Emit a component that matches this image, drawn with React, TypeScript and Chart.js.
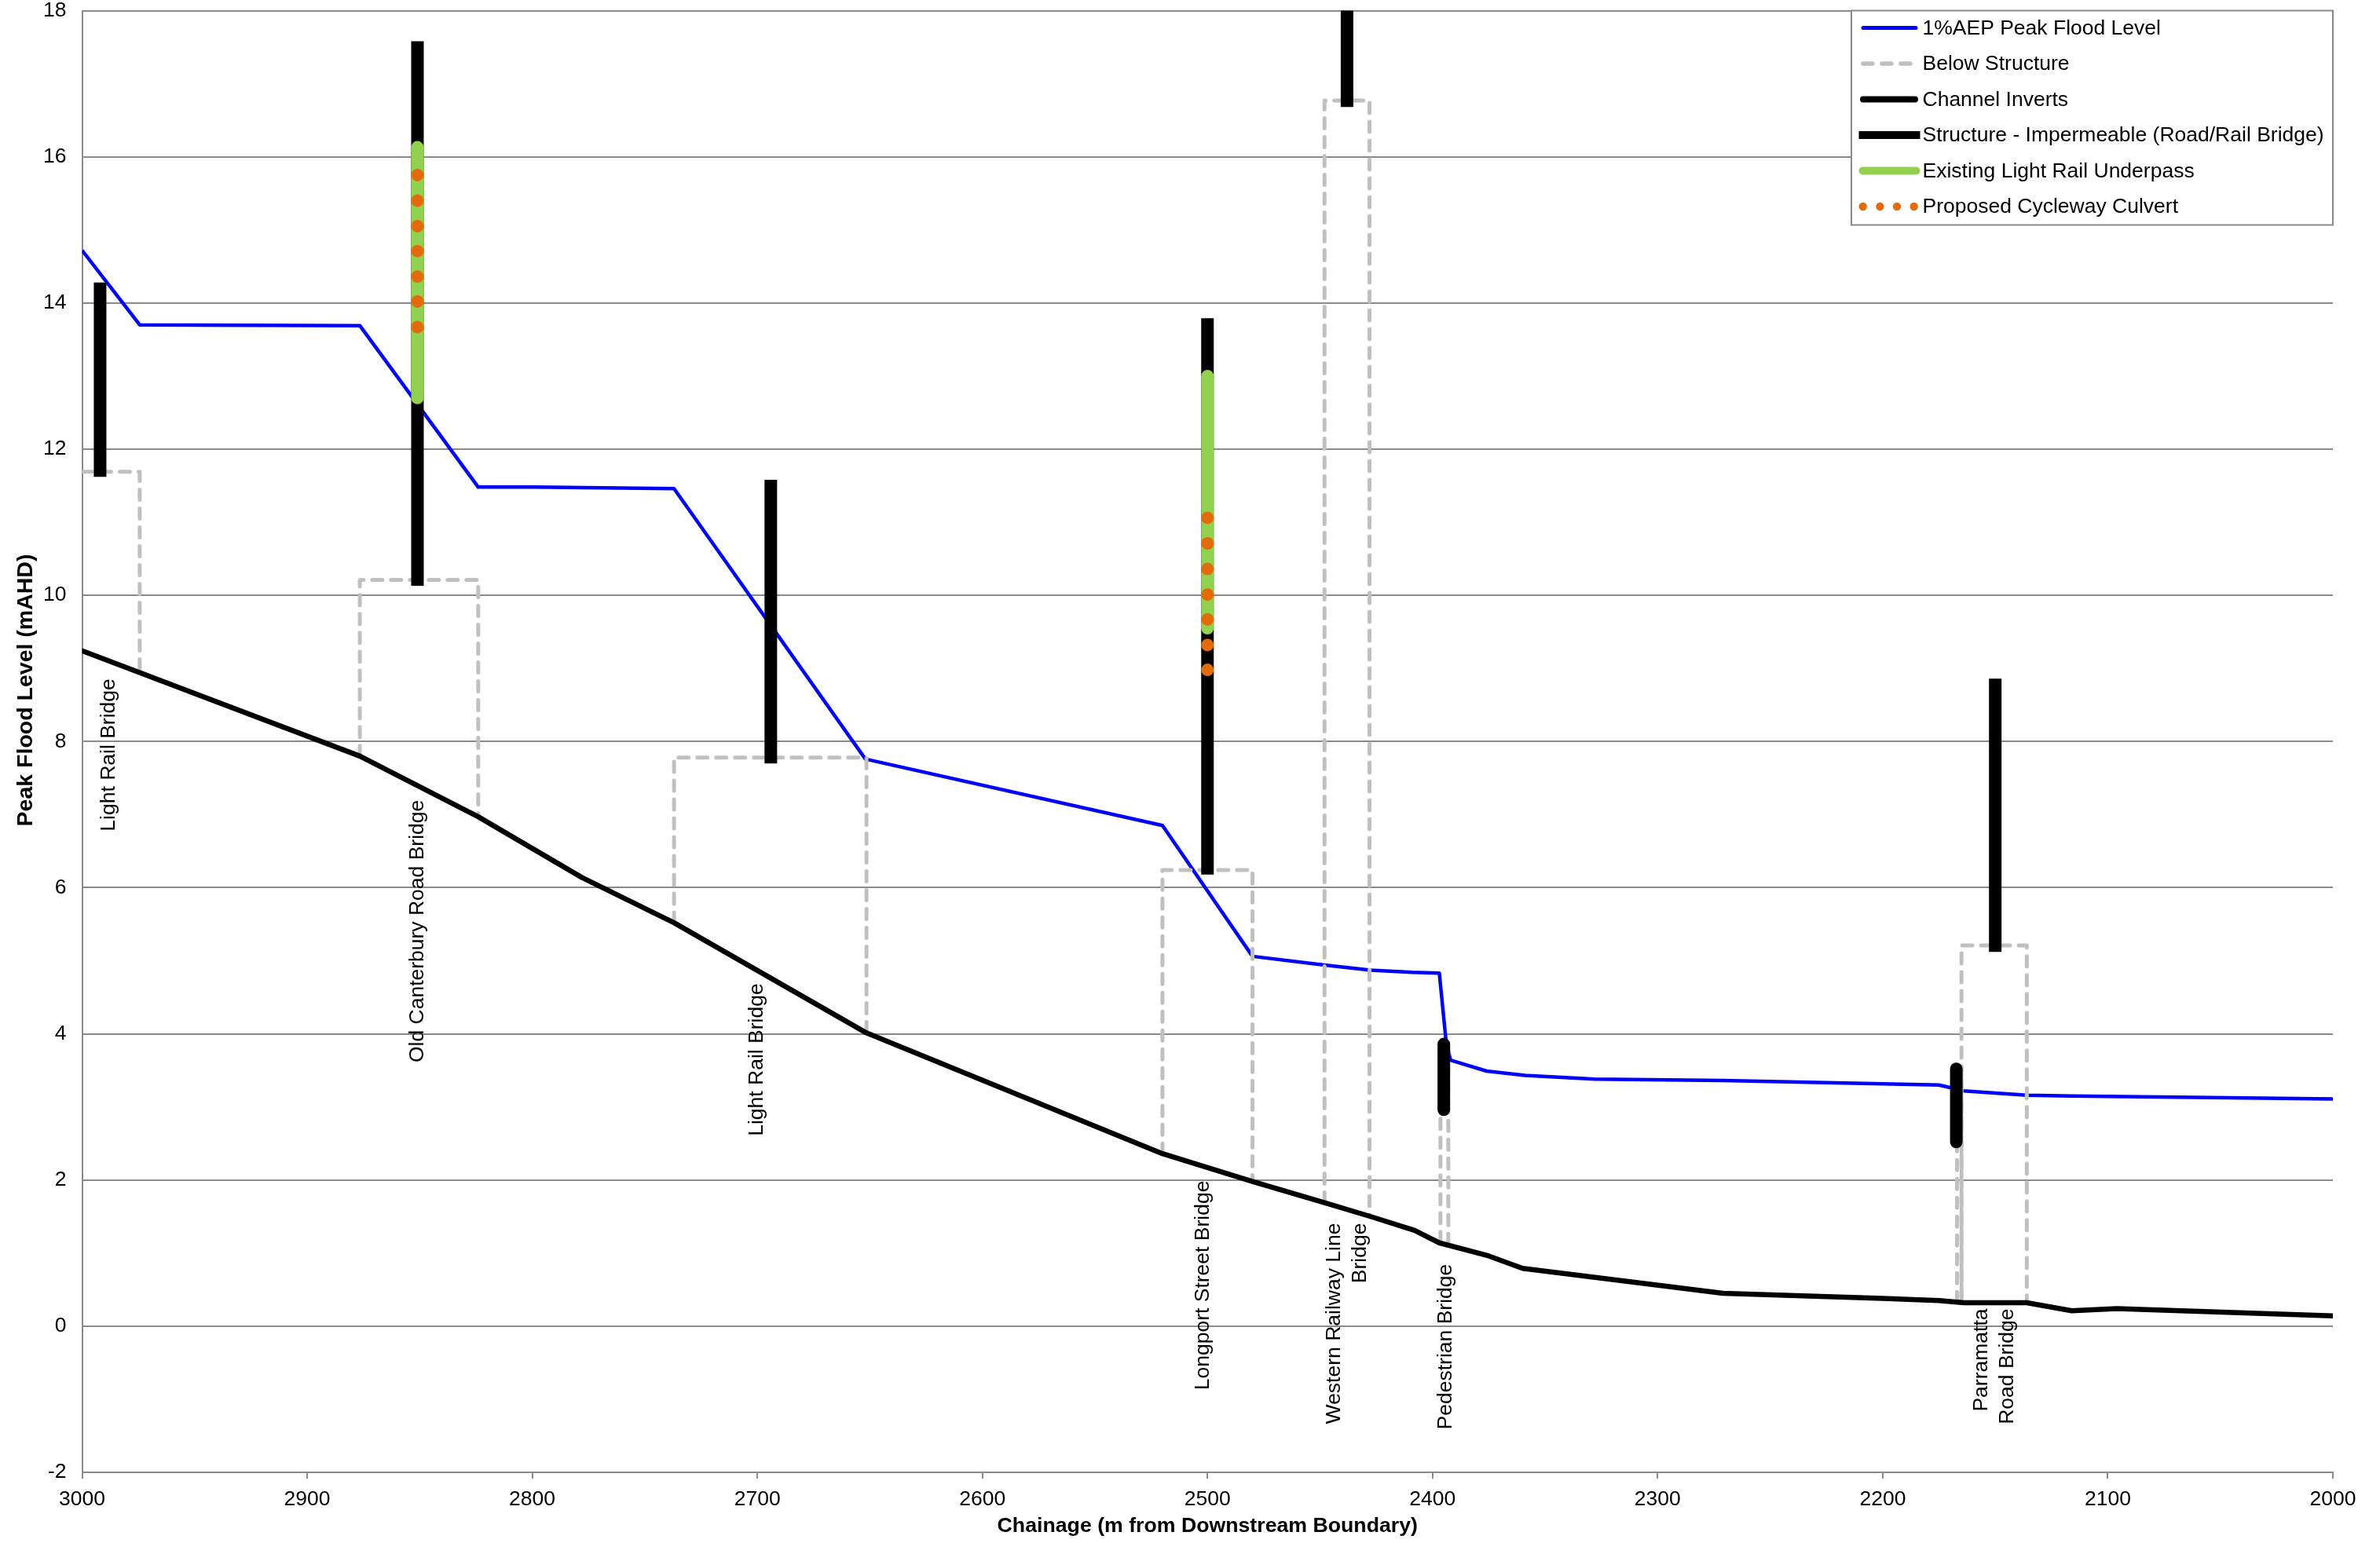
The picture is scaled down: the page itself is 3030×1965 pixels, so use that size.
import React, { useEffect, useRef } from "react";
import { Chart, registerables } from "chart.js";

Chart.register(...registerables);

const FONT = "'Liberation Sans', Arial, Helvetica, sans-serif";

// ---- Data (chainage in m from downstream boundary, levels in mAHD) ----
const floodChainage = [3000, 2974.4, 2876.6, 2824, 2800, 2737, 2652, 2520, 2480, 2448, 2427.5, 2409, 2397, 2394, 2392, 2376, 2359, 2328, 2271, 2175, 2164, 2136, 2116, 2000];
const floodLevel = [14.72, 13.7, 13.69, 11.48, 11.48, 11.46, 7.76, 6.85, 5.06, 4.94, 4.87, 4.84, 4.83, 3.9, 3.64, 3.49, 3.43, 3.38, 3.36, 3.3, 3.22, 3.16, 3.15, 3.11];

const invertChainage = [3000, 2876.6, 2824, 2778, 2737, 2652, 2520, 2480, 2448, 2427.5, 2408, 2397, 2376, 2360, 2271, 2200, 2175, 2164, 2136, 2116, 2096, 2000];
const invertLevel = [9.24, 7.8, 6.97, 6.14, 5.52, 4.02, 2.36, 1.98, 1.69, 1.5, 1.31, 1.14, 0.97, 0.79, 0.45, 0.38, 0.35, 0.32, 0.32, 0.21, 0.24, 0.14];

// Below structure openings (dashed outlines)
const belowLeftX = [3000, 2876.6, 2737, 2520, 2448, 2396.5, 2167, 2165];
const belowRightX = [2974.4, 2824, 2651.5, 2480, 2428, 2393, 2165, 2136];
const belowSoffit = [11.69, 10.21, 7.78, 6.24, 16.77, 3.86, 3.5, 5.21];
const belowLeftInvert = [11.69, 7.8, 5.52, 2.36, 1.69, 1.15, 0.33, 0.32];
const belowRightInvert = [8.94, 6.97, 4.02, 1.98, 1.5, 1.12, 0.32, 0.32];

// Impermeable structures (road / rail decks)
const structureX = [2992, 2851, 2694, 2500, 2438, 2150];
const structureTop = [14.28, 17.58, 11.58, 13.79, 18.5, 8.86];
const structureBottom = [11.62, 10.13, 7.7, 6.18, 16.68, 5.12];

// Small (pedestrian / parramatta) structures
const smallStructureX = [2395, 2167.3];
const smallStructureTop = [3.86, 3.52];
const smallStructureBottom = [2.96, 2.52];

// Existing light rail underpass
const underpassX = [2851, 2500];
const underpassTop = [16.13, 13.0];
const underpassBottom = [12.7, 9.55];

// Proposed cycleway culvert (dots)
const culvert1X = 2851;
const culvert1Levels = [15.75, 15.4, 15.05, 14.71, 14.36, 14.02, 13.67];
const culvert2X = 2500;
const culvert2Levels = [11.06, 10.71, 10.36, 10.01, 9.67, 9.32, 8.98];

// Structure names
const labelTexts = [
  ["Light Rail Bridge"],
  ["Old Canterbury Road Bridge"],
  ["Light Rail Bridge"],
  ["Longport Street Bridge"],
  ["Western Railway Line", "Bridge"],
  ["Pedestrian Bridge"],
  ["Parramatta", "Road Bridge"],
];
const labelX = [2988, 2851, 2700, 2502, 2438, 2394, 2150.5];
const labelY = [8.86, 7.2, 4.69, 1.99, 1.41, 0.85, 0.24];

const legendLabels = [
  "1%AEP Peak Flood Level",
  "Below Structure",
  "Channel Inverts",
  "Structure - Impermeable (Road/Rail Bridge)",
  "Existing Light Rail Underpass",
  "Proposed Cycleway Culvert",
];

const xTickMin = 2000;
const xTickMax = 3000;
const xTickStep = 100;
const yTickMin = -2;
const yTickMax = 18;
const yTickStep = 2;

// ---- Styles ----
const BLUE = "#0000FF";
const GRAY_DASH = "#C0C0C0";
const BLACK = "#000000";
const GREEN = "#92D050";
const ORANGE = "#E36C0A";
const GRID = "#8a8a8a";

const pts = (xs: number[], ys: number[]) => xs.map((x, i) => ({ x, y: ys[i] }));

function buildDatasets() {
  const ds: any[] = [];
  [
    [culvert1X, culvert1Levels],
    [culvert2X, culvert2Levels],
  ].forEach(([x, levels]: any) => {
    ds.push({
      data: (levels as number[]).map((y) => ({ x, y })),
      showLine: false,
      pointRadius: 8,
      pointBorderWidth: 0,
      pointBackgroundColor: ORANGE,
      pointBorderColor: ORANGE,
      order: 0,
    });
  });
  underpassX.forEach((x, i) => {
    ds.push({
      data: [{ x, y: underpassTop[i] }, { x, y: underpassBottom[i] }],
      borderColor: GREEN,
      borderWidth: 16,
      borderCapStyle: "round",
      pointRadius: 0,
      order: 1,
    });
  });
  structureX.forEach((x, i) => {
    ds.push({
      data: [{ x, y: structureTop[i] }, { x, y: structureBottom[i] }],
      borderColor: BLACK,
      borderWidth: 16,
      borderCapStyle: "butt",
      pointRadius: 0,
      clip: 0,
      order: 2,
    });
  });
  smallStructureX.forEach((x, i) => {
    ds.push({
      data: [{ x, y: smallStructureTop[i] }, { x, y: smallStructureBottom[i] }],
      borderColor: BLACK,
      borderWidth: 16,
      borderCapStyle: "round",
      pointRadius: 0,
      order: 2,
    });
  });
  ds.push({
    data: pts(invertChainage, invertLevel),
    borderColor: BLACK,
    borderWidth: 6.5,
    borderCapStyle: "round",
    borderJoinStyle: "round",
    pointRadius: 0,
    order: 3,
  });
  belowLeftX.forEach((lx, i) => {
    const rx = belowRightX[i];
    ds.push({
      data: [
        { x: lx, y: belowLeftInvert[i] },
        { x: lx, y: belowSoffit[i] },
        { x: rx, y: belowSoffit[i] },
        { x: rx, y: belowRightInvert[i] },
      ],
      borderColor: GRAY_DASH,
      borderWidth: 5,
      borderDash: [13, 11],
      borderCapStyle: "round",
      borderJoinStyle: "round",
      pointRadius: 0,
      clip: 0,
      order: 4,
    });
  });
  ds.push({
    data: pts(floodChainage, floodLevel),
    borderColor: BLUE,
    borderWidth: 4.5,
    borderJoinStyle: "round",
    pointRadius: 0,
    order: 5,
  });
  return ds.map((d) => ({ fill: false, tension: 0, ...d }));
}

const labelsPlugin = {
  id: "structureLabels",
  afterDatasetsDraw(chart: any) {
    const { ctx, scales } = chart;
    ctx.save();
    ctx.fillStyle = "#000";
    ctx.font = `26.5px ${FONT}`;
    ctx.textAlign = "right";
    ctx.textBaseline = "middle";
    const gap = 33;
    labelTexts.forEach((lines, i) => {
      const px = scales.x.getPixelForValue(labelX[i]);
      const py = scales.y.getPixelForValue(labelY[i]);
      ctx.save();
      ctx.translate(px, py);
      ctx.rotate(-Math.PI / 2);
      lines.forEach((t, j) => {
        const off = (j - (lines.length - 1) / 2) * gap;
        ctx.fillText(t, 0, off);
      });
      ctx.restore();
    });
    ctx.restore();
  },
};

const titlesPlugin = {
  id: "axisTitles",
  afterDraw(chart: any) {
    const { ctx, chartArea } = chart;
    ctx.save();
    ctx.fillStyle = "#000";
    ctx.textAlign = "center";
    ctx.textBaseline = "middle";
    ctx.font = `bold 26.7px ${FONT}`;
    ctx.fillText("Chainage (m from Downstream Boundary)", (chartArea.left + chartArea.right) / 2, 1944);
    ctx.save();
    ctx.translate(33, 879);
    ctx.rotate(-Math.PI / 2);
    ctx.font = `bold 28.5px ${FONT}`;
    ctx.fillText("Peak Flood Level (mAHD)", 0, 0);
    ctx.restore();
    ctx.restore();
  },
};

const legendPlugin = {
  id: "boxLegend",
  afterDraw(chart: any) {
    const { ctx, chartArea } = chart;
    const w = 613;
    const h = 273;
    const L = chartArea.right - w;
    const T = chartArea.top;
    ctx.save();
    ctx.fillStyle = "#fff";
    ctx.fillRect(L, T, w, h);
    ctx.strokeStyle = GRID;
    ctx.lineWidth = 2;
    ctx.strokeRect(L, T, w, h);
    const rowY = (i: number) => T + 22 + i * 45.5;
    const line = (i: number, x1: number, x2: number, color: string, width: number, cap: CanvasLineCap, dash: number[] = []) => {
      ctx.beginPath();
      ctx.setLineDash(dash);
      ctx.lineCap = cap;
      ctx.strokeStyle = color;
      ctx.lineWidth = width;
      ctx.moveTo(L + x1, rowY(i));
      ctx.lineTo(L + x2, rowY(i));
      ctx.stroke();
      ctx.setLineDash([]);
    };
    line(0, 15, 82, BLUE, 5, "round");
    line(1, 15, 80, GRAY_DASH, 5.5, "round", [12, 12]);
    line(2, 15, 81, BLACK, 8, "round");
    line(3, 9.5, 87.5, BLACK, 10, "butt");
    line(4, 14.5, 82.5, GREEN, 10, "round");
    ctx.fillStyle = ORANGE;
    [14.7, 36.4, 58, 79.7].forEach((dx) => {
      ctx.beginPath();
      ctx.arc(L + dx, rowY(5), 5.2, 0, Math.PI * 2);
      ctx.fill();
    });
    ctx.fillStyle = "#000";
    ctx.font = `26.5px ${FONT}`;
    ctx.textAlign = "left";
    ctx.textBaseline = "middle";
    legendLabels.forEach((t, i) => ctx.fillText(t, L + 90.5, rowY(i) + 1));
    ctx.restore();
  },
};

export default function App() {
  const ref = useRef<HTMLCanvasElement>(null);
  useEffect(() => {
    const canvas = ref.current;
    if (!canvas) return;
    const chart = new Chart(canvas, {
      type: "line",
      data: { datasets: buildDatasets() },
      options: {
        animation: false,
        responsive: false,
        maintainAspectRatio: false,
        devicePixelRatio: 1,
        events: [],
        layout: { padding: { left: 0, right: 60, top: 13.5, bottom: 0 } },
        plugins: {
          legend: { display: false },
          tooltip: { enabled: false },
          title: { display: false },
        },
        scales: {
          x: {
            type: "linear",
            reverse: true,
            min: xTickMin,
            max: xTickMax,
            afterFit: (s: any) => {
              s.height = 90;
              s.paddingLeft = 0;
              s.paddingRight = 0;
            },
            ticks: {
              stepSize: xTickStep,
              autoSkip: false,
              maxRotation: 0,
              color: "#000",
              padding: 13.5,
              font: { family: FONT, size: 26.5, lineHeight: 1 },
              callback: (v: any) => String(v),
            },
            grid: {
              display: true,
              drawOnChartArea: false,
              drawTicks: true,
              tickLength: 8,
              color: GRID,
              lineWidth: 2,
            },
            border: { display: true, color: GRID, width: 2 },
            title: { display: false },
          },
          y: {
            type: "linear",
            min: yTickMin,
            max: yTickMax,
            afterFit: (s: any) => {
              s.width = 104.5;
              s.paddingTop = 0;
              s.paddingBottom = 0;
            },
            ticks: {
              stepSize: yTickStep,
              color: "#000",
              padding: 20,
              font: { family: FONT, size: 26.5, lineHeight: 1 },
              callback: (v: any) => String(v),
            },
            grid: { color: GRID, lineWidth: 2, drawTicks: false },
            border: { display: true, color: GRID, width: 2 },
            title: { display: false },
          },
        },
      } as any,
      plugins: [labelsPlugin, titlesPlugin, legendPlugin],
    });
    return () => chart.destroy();
  }, []);
  return (
    <div style={{ position: "fixed", left: 0, top: 0, width: 3030, height: 1965, background: "#fff" }}>
      <canvas ref={ref} width={3030} height={1965} style={{ width: 3030, height: 1965, display: "block" }} />
    </div>
  );
}
